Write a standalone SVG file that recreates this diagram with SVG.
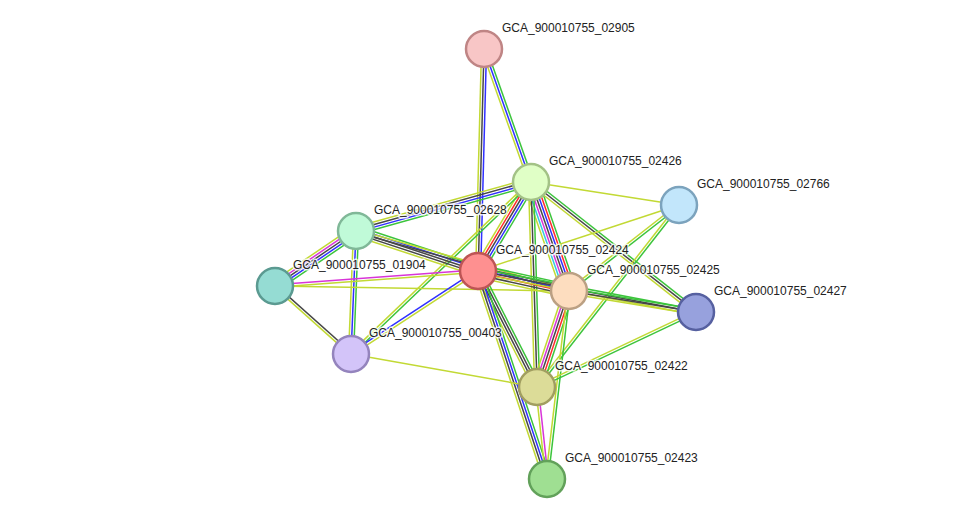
<svg xmlns="http://www.w3.org/2000/svg" width="975" height="525" viewBox="0 0 975 525">
<style>
.e path{fill:none;stroke-width:1.5}
.g{stroke:#3cc43c}.r{stroke:#ff2a2a}.b{stroke:#3030ff}.k{stroke:#474747}.m{stroke:#d835d8}.c{stroke:#35c8e0}.y{stroke:#c2d934}
.n circle{stroke-width:2.5}
.n text{font-family:"Liberation Sans",Arial,sans-serif;font-size:12px;fill:#222;stroke:#fff;stroke-width:3;stroke-opacity:0.8;paint-order:stroke;stroke-linejoin:round}
</style>
<rect width="975" height="525" fill="#fff"/>
<g id="connectors" class="e">
<g transform="translate(484 49) rotate(70.5)"><path class="g" d="M0 -2.5H141"/><path class="b" d="M0 0H141"/><path class="y" d="M0 2.5H141"/></g>
<g transform="translate(484 49) rotate(91.5)"><path class="b" d="M0 -2.5H222"/><path class="k" d="M0 0H222"/><path class="y" d="M0 2.5H222"/></g>
<g transform="translate(531 182) rotate(8.8)"><path class="y" d="M0 0H150"/></g>
<g transform="translate(531 182) rotate(164.4)"><path class="g" d="M0 -3.75H182"/><path class="b" d="M0 -1.25H182"/><path class="k" d="M0 1.25H182"/><path class="y" d="M0 3.75H182"/></g>
<g transform="translate(531 182) rotate(120.8)"><path class="g" d="M0 -5H104"/><path class="b" d="M0 -2.5H104"/><path class="k" d="M0 0H104"/><path class="r" d="M0 2.5H104"/><path class="y" d="M0 5H104"/></g>
<g transform="translate(531 182) rotate(70.8)"><path class="g" d="M0 -7.5H115"/><path class="r" d="M0 -5H115"/><path class="b" d="M0 -2.5H115"/><path class="k" d="M0 0H115"/><path class="m" d="M0 2.5H115"/><path class="c" d="M0 5H115"/><path class="y" d="M0 7.5H115"/></g>
<g transform="translate(531 182) rotate(88.3)"><path class="g" d="M0 -2.5H205"/><path class="k" d="M0 0H205"/><path class="y" d="M0 2.5H205"/></g>
<g transform="translate(531 182) rotate(38.2)"><path class="g" d="M0 -2.5H210"/><path class="k" d="M0 0H210"/><path class="y" d="M0 2.5H210"/></g>
<g transform="translate(531 182) rotate(136.3)"><path class="g" d="M0 -1.25H249"/><path class="y" d="M0 1.25H249"/></g>
<g transform="translate(679 205) rotate(161.8)"><path class="y" d="M0 0H212"/></g>
<g transform="translate(679 205) rotate(142)"><path class="g" d="M0 -1.25H140"/><path class="y" d="M0 1.25H140"/></g>
<g transform="translate(679 205) rotate(128)"><path class="g" d="M0 -1.25H231"/><path class="y" d="M0 1.25H231"/></g>
<g transform="translate(356 231) rotate(145.8)"><path class="g" d="M0 -5H98"/><path class="b" d="M0 -2.5H98"/><path class="k" d="M0 0H98"/><path class="m" d="M0 2.5H98"/><path class="y" d="M0 5H98"/></g>
<g transform="translate(356 231) rotate(18.2)"><path class="g" d="M0 -5H128"/><path class="b" d="M0 -2.5H128"/><path class="k" d="M0 0H128"/><path class="k" d="M0 2.5H128"/><path class="y" d="M0 5H128"/></g>
<g transform="translate(356 231) rotate(15.7)"><path class="y" d="M0 -1.25H221"/><path class="k" d="M0 1.25H221"/></g>
<g transform="translate(356 231) rotate(92.3)"><path class="g" d="M0 -2.5H123"/><path class="b" d="M0 0H123"/><path class="y" d="M0 2.5H123"/></g>
<g transform="translate(275 286) rotate(-4.2)"><path class="m" d="M0 -1.25H204"/><path class="y" d="M0 1.25H204"/></g>
<g transform="translate(275 286) rotate(1)"><path class="y" d="M0 0H294"/></g>
<g transform="translate(275 286) rotate(41.8)"><path class="k" d="M0 -1.25H102"/><path class="y" d="M0 1.25H102"/></g>
<g transform="translate(478 271) rotate(12.4)"><path class="g" d="M0 -6.25H93"/><path class="k" d="M0 -3.75H93"/><path class="b" d="M0 -1.25H93"/><path class="r" d="M0 1.25H93"/><path class="k" d="M0 3.75H93"/><path class="y" d="M0 6.25H93"/></g>
<g transform="translate(478 271) rotate(10.7)"><path class="g" d="M0 -2.5H222"/><path class="k" d="M0 0H222"/><path class="y" d="M0 2.5H222"/></g>
<g transform="translate(478 271) rotate(63)"><path class="g" d="M0 -3.75H130"/><path class="k" d="M0 -1.25H130"/><path class="k" d="M0 1.25H130"/><path class="y" d="M0 3.75H130"/></g>
<g transform="translate(478 271) rotate(71.6)"><path class="g" d="M0 -3.75H219"/><path class="b" d="M0 -1.25H219"/><path class="k" d="M0 1.25H219"/><path class="y" d="M0 3.75H219"/></g>
<g transform="translate(569 291) rotate(9.4)"><path class="g" d="M0 -2.5H129"/><path class="k" d="M0 0H129"/><path class="y" d="M0 2.5H129"/></g>
<g transform="translate(569 291) rotate(108.4)"><path class="g" d="M0 -5H101"/><path class="r" d="M0 -2.5H101"/><path class="k" d="M0 0H101"/><path class="m" d="M0 2.5H101"/><path class="y" d="M0 5H101"/></g>
<g transform="translate(569 291) rotate(96.7)"><path class="g" d="M0 -1.25H189"/><path class="y" d="M0 1.25H189"/></g>
<g transform="translate(696 312) rotate(154.7)"><path class="g" d="M0 -1.25H176"/><path class="y" d="M0 1.25H176"/></g>
<g transform="translate(351 354) rotate(10.1)"><path class="y" d="M0 0H189"/></g>
<g transform="translate(351 354) rotate(-33.2)"><path class="b" d="M0 -1.25H152"/><path class="y" d="M0 1.25H152"/></g>
<g transform="translate(537 387) rotate(83.8)"><path class="m" d="M0 -1.25H92"/><path class="y" d="M0 1.25H92"/></g>
</g>
<g id="n02905" class="n"><circle cx="484" cy="49" r="18" fill="#f8c6c6" stroke="#bf8585"/><text x="502" y="32">GCA_900010755_02905</text></g>
<g id="n02426" class="n"><circle cx="531" cy="182" r="18" fill="#e0ffc6" stroke="#a3c286"/><text x="549" y="165">GCA_900010755_02426</text></g>
<g id="n02766" class="n"><circle cx="679" cy="205" r="18" fill="#c2e6fb" stroke="#7ca3bd"/><text x="697" y="188">GCA_900010755_02766</text></g>
<g id="n02628" class="n"><circle cx="356" cy="231" r="18" fill="#c0fad8" stroke="#80b898"/><text x="374" y="214">GCA_900010755_02628</text></g>
<g id="n01904" class="n"><circle cx="275" cy="286" r="18" fill="#95dcd3" stroke="#5b9a91"/><text x="293" y="269">GCA_900010755_01904</text></g>
<g id="n02424" class="n"><circle cx="478" cy="271" r="18" fill="#fe9090" stroke="#bd5555"/><text x="496" y="254">GCA_900010755_02424</text></g>
<g id="n02425" class="n"><circle cx="569" cy="291" r="18" fill="#fdddbf" stroke="#bba083"/><text x="587" y="274">GCA_900010755_02425</text></g>
<g id="n02427" class="n"><circle cx="696" cy="312" r="18" fill="#97a1dd" stroke="#5660a0"/><text x="714" y="295">GCA_900010755_02427</text></g>
<g id="n00403" class="n"><circle cx="351" cy="354" r="18" fill="#d3c4f9" stroke="#9484bd"/><text x="369" y="337">GCA_900010755_00403</text></g>
<g id="n02422" class="n"><circle cx="537" cy="387" r="18" fill="#dcdc98" stroke="#a19e60"/><text x="555" y="370">GCA_900010755_02422</text></g>
<g id="n02423" class="n"><circle cx="547" cy="479" r="18" fill="#9fdf92" stroke="#62a15a"/><text x="565" y="462">GCA_900010755_02423</text></g>
</svg>
